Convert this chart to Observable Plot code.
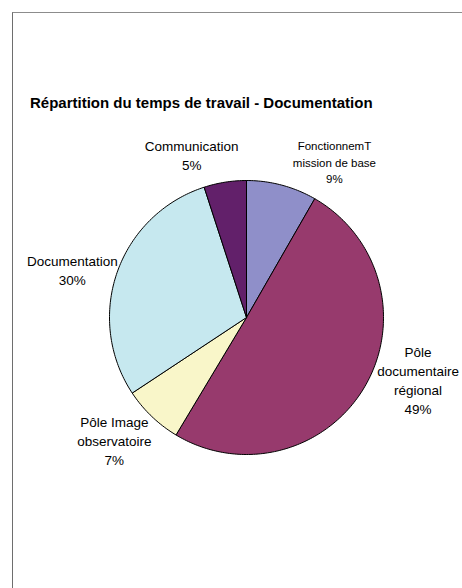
<!DOCTYPE html>
<html>
<head>
<meta charset="utf-8">
<script src="https://cdn.jsdelivr.net/npm/d3@7"></script>
<script src="https://cdn.jsdelivr.net/npm/@observablehq/plot@0.6"></script>
<style>
  html, body { margin: 0; padding: 0; background: #fff; }
  body { width: 462px; height: 588px; position: relative; overflow: hidden; font-family: "Liberation Sans", Arial, sans-serif; }
  #frame { position: absolute; left: 12px; top: 12px; width: 460px; height: 590px;
           border-left: 1px solid #6e6e6e; border-top: 1px solid #8c8c8c; }
  #title { position: absolute; left: 30px; top: 94px; font-weight: bold; font-size: 15px; color: #000; white-space: nowrap; }
  #chart { position: absolute; left: 0; top: 0; }
</style>
</head>
<body>
<div id="frame"></div>
<div id="title">Répartition du temps de travail - Documentation</div>
<div id="chart"></div>
<script>
// ---- data ----
const categories = ["FonctionnemT\nmission de base", "Pôle\ndocumentaire\nrégional", "Pôle Image\nobservatoire", "Documentation", "Communication"];
const shares = [8.3, 50.3, 7.1, 29.3, 5.0];           // slice sizes
const pctLabels = ["9%", "49%", "7%", "30%", "5%"];    // labels as printed
const colors = ["#8f8fc9", "#973a6d", "#f9f6c9", "#c6e8ef", "#62206a"];

// ---- layout (not data) ----
const cx0 = 246, cy0 = 317, R = 137;
const labelNudge = [[42, 16], [18, -28], [-9, -6], [-6, 11], [-27, 13]];
const labelSize = [11.5, 13.5, 13.5, 13.5, 13.5];

// ---- build slices ----
const total = d3.sum(shares);
const slices = [];
let acc = 0;
shares.forEach((v, i) => {
  const a0 = acc / total * 2 * Math.PI;
  acc += v;
  const a1 = acc / total * 2 * Math.PI;
  slices.push({name: categories[i], a0, a1, mid: (a0 + a1) / 2, label: categories[i] + "\n" + pctLabels[i], i});
});
const pts = [];
for (const s of slices) {
  pts.push({name: s.name, x: 0, y: 0});
  const n = Math.max(2, Math.ceil((s.a1 - s.a0) / (Math.PI / 180)));
  for (let k = 0; k <= n; k++) {
    const a = s.a0 + (s.a1 - s.a0) * k / n;
    pts.push({name: s.name, x: Math.sin(a), y: Math.cos(a)});
  }
  pts.push({name: s.name, x: 0, y: 0});
}

const labelMarks = slices.map(s => Plot.text([s], {
  x: d => 1.3 * Math.sin(d.mid),
  y: d => 1.3 * Math.cos(d.mid),
  text: "label",
  dx: labelNudge[s.i][0],
  dy: labelNudge[s.i][1],
  fontSize: labelSize[s.i],
  lineHeight: 1.4,
  lineAnchor: "middle",
  textAnchor: "middle",
  fill: "#000"
}));

const chart = Plot.plot({
  width: 462,
  height: 588,
  margin: 0,
  style: {background: "transparent", fontFamily: "'Liberation Sans', Arial, sans-serif"},
  x: {domain: [-1, 1], range: [cx0 - R, cx0 + R], axis: null},
  y: {domain: [-1, 1], range: [cy0 + R, cy0 - R], axis: null},
  color: {domain: categories, range: colors},
  marks: [
    Plot.line(pts, {x: "x", y: "y", z: "name", fill: "name", stroke: "#000", strokeWidth: 1, curve: "linear-closed"}),
    ...labelMarks
  ]
});
document.getElementById("chart").appendChild(chart);
</script>
</body>
</html>
